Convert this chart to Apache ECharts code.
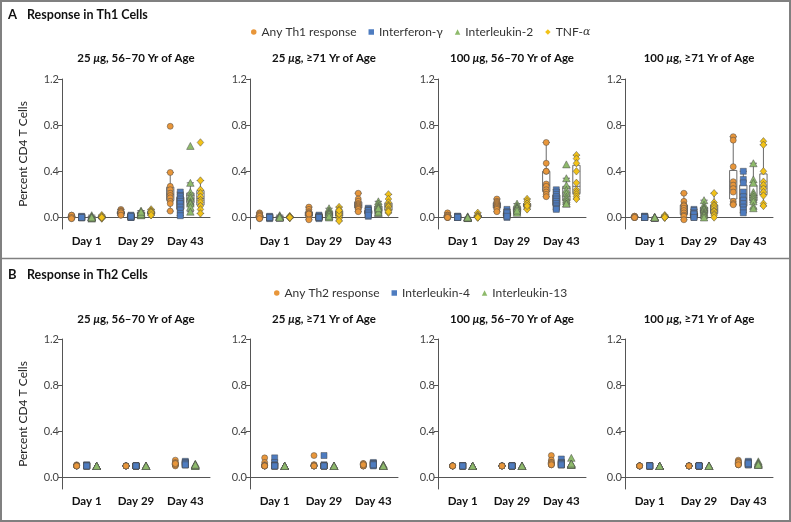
<!DOCTYPE html>
<html><head><meta charset="utf-8">
<script src="https://cdn.jsdelivr.net/npm/echarts@6/dist/echarts.min.js"></script>
<style>html,body{margin:0;padding:0;background:#fff}#c{width:791px;height:522px}</style>
</head><body><div id="c"></div>
<script>
// ---------- categories / labels ----------
const days = ['Day 1', 'Day 29', 'Day 43'];
const groupTitles = ['25 {i|μ}g, 56–70 Yr of Age', '25 {i|μ}g, ≥71 Yr of Age', '100 {i|μ}g, 56–70 Yr of Age', '100 {i|μ}g, ≥71 Yr of Age'];
const yTicks = [0, 0.4, 0.8, 1.2];
const th1Names = ['Any Th1 response', 'Interferon-γ', 'Interleukin-2', 'TNF-α'];
const th2Names = ['Any Th2 response', 'Interleukin-4', 'Interleukin-13'];

// ---------- Th1 data: each array = [Day 1, Day 29, Day 43] ----------
// 25 µg, 56–70 yr
const th1Any_25y = [[0.02,0.01,0.0,0.0,-0.01,0.01,0.0,0.02,0.0,-0.01],[0.07,0.06,0.05,0.04,0.03,0.03,0.02,0.05,0.04,0.02],[0.79,0.39,0.27,0.24,0.21,0.19,0.17,0.14,0.12,0.055]];
const th1Ifn_25y = [[0.0,0.0,0.01,0.0,-0.005,0.0,0.005,0.0,0.0,0.0],[0.02,0.01,0.01,0.0,0.0,0.01,0.0,0.005,0.0,0.01],[0.22,0.19,0.18,0.16,0.14,0.12,0.09,0.065,0.035,0.015]];
const th1Il2_25y = [[0.01,0.0,0.0,-0.01,0.02,0.0,0.01,0.0,0.005,0.0],[0.06,0.05,0.04,0.03,0.02,0.03,0.04,0.02,0.03,0.05],[0.62,0.30,0.22,0.19,0.17,0.14,0.13,0.12,0.09,0.05]];
const th1Tnf_25y = [[0.01,0.0,-0.01,0.02,0.0,0.005,-0.005,0.01,0.0,0.0],[0.07,0.06,0.05,0.04,0.03,0.02,0.03,0.05,0.04,0.02],[0.65,0.32,0.24,0.21,0.18,0.15,0.13,0.10,0.07,0.035]];
// 25 µg, >=71 yr
const th1Any_25o = [[0.04,0.03,0.01,0.0,-0.01,0.0,0.02,0.0,0.01,-0.01],[0.09,0.07,0.05,0.04,0.03,0.02,0.01,0.0,-0.02,0.03],[0.21,0.16,0.14,0.12,0.11,0.10,0.09,0.08,0.07,0.05]];
const th1Ifn_25o = [[0.0,0.0,-0.01,0.01,0.0,0.0,0.005,-0.005,0.0,0.0],[0.02,0.01,0.0,0.0,-0.01,0.01,0.0,0.005,0.0,0.0],[0.08,0.07,0.06,0.05,0.04,0.03,0.01,0.06,0.04,0.02]];
const th1Il2_25o = [[0.0,0.01,0.02,0.0,0.0,0.01,0.0,0.005,0.01,0.0],[0.08,0.06,0.05,0.03,0.02,0.01,0.0,0.04,0.03,0.01],[0.14,0.12,0.10,0.09,0.07,0.06,0.04,0.04,0.05,0.08]];
const th1Tnf_25o = [[0.0,0.01,-0.005,0.0,0.01,0.0,0.005,0.0,0.0,0.0],[0.09,0.07,0.05,0.04,0.02,0.01,-0.01,-0.03,0.03,0.06],[0.20,0.16,0.13,0.11,0.10,0.09,0.07,0.06,0.04,0.05]];
// 100 µg, 56–70 yr
const th1Any_100y = [[0.04,0.02,0.01,0.0,0.01,0.0,0.02,0.01,0.0,0.0],[0.16,0.14,0.13,0.12,0.11,0.10,0.09,0.08,0.07,0.05],[0.65,0.47,0.40,0.40,0.29,0.27,0.24,0.22,0.20,0.18]];
const th1Ifn_100y = [[0.01,0.0,0.0,0.005,0.0,0.01,0.0,0.0,0.005,0.0],[0.07,0.05,0.04,0.03,0.01,0.0,0.02,0.03,0.04,0.01],[0.24,0.22,0.20,0.18,0.16,0.14,0.12,0.10,0.08,0.07]];
const th1Il2_100y = [[0.0,0.01,-0.005,0.0,0.0,0.005,0.0,-0.005,0.0,0.0],[0.12,0.10,0.09,0.08,0.07,0.06,0.05,0.04,0.08,0.06],[0.46,0.34,0.28,0.24,0.21,0.18,0.16,0.14,0.12,0.12]];
const th1Tnf_100y = [[0.04,0.02,0.01,0.0,0.01,0.02,0.0,0.01,0.005,0.0],[0.16,0.14,0.12,0.11,0.10,0.09,0.08,0.07,0.12,0.10],[0.54,0.51,0.47,0.40,0.30,0.24,0.22,0.20,0.18,0.16]];
// 100 µg, >=71 yr
const th1Any_100o = [[0.01,0.0,0.0,0.01,0.005,0.0,0.0,0.01,0.0,0.0],[0.21,0.14,0.11,0.10,0.08,0.06,0.04,0.02,0.01,-0.02],[0.70,0.67,0.44,0.31,0.28,0.25,0.22,0.14,0.12,0.11]];
const th1Ifn_100o = [[0.01,0.0,0.005,0.0,0.01,0.0,0.0,0.005,0.0,0.0],[0.07,0.06,0.04,0.03,0.01,0.01,0.0,0.02,0.03,0.0],[0.40,0.33,0.30,0.22,0.18,0.15,0.12,0.09,0.065,0.04]];
const th1Il2_100o = [[0.0,0.0,0.005,0.0,0.0,0.005,0.0,0.0,0.0,0.0],[0.15,0.11,0.09,0.08,0.07,0.05,0.04,0.03,0.02,0.0],[0.47,0.33,0.30,0.22,0.20,0.18,0.16,0.14,0.10,0.08]];
const th1Tnf_100o = [[0.01,0.0,0.02,0.005,0.0,0.01,0.0,0.0,0.01,0.0],[0.21,0.13,0.11,0.10,0.08,0.06,0.05,0.03,0.02,0.0],[0.66,0.63,0.40,0.31,0.28,0.25,0.22,0.19,0.12,0.10]];

// ---------- Th2 data ----------
const th2Any_25y = [[0.10,0.10,0.11,0.10,0.10,0.105,0.10,0.10,0.10,0.10],[0.10,0.10,0.10,0.10,0.10,0.10,0.10,0.10,0.10,0.10],[0.15,0.13,0.12,0.11,0.11,0.12,0.11,0.10,0.11,0.12]];
const th2Il4_25y = [[0.10,0.11,0.10,0.10,0.10,0.10,0.105,0.10,0.10,0.10],[0.10,0.10,0.10,0.10,0.10,0.10,0.10,0.10,0.10,0.10],[0.14,0.13,0.12,0.11,0.12,0.11,0.13,0.11,0.12,0.11]];
const th2Il13_25y = [[0.10,0.10,0.10,0.10,0.10,0.10,0.10,0.10,0.10,0.10],[0.10,0.10,0.10,0.10,0.10,0.10,0.10,0.10,0.10,0.10],[0.12,0.11,0.11,0.10,0.11,0.10,0.11,0.10,0.11,0.11]];
const th2Any_25o = [[0.17,0.13,0.10,0.10,0.10,0.11,0.10,0.10,0.10,0.10],[0.19,0.11,0.10,0.10,0.10,0.10,0.11,0.10,0.10,0.10],[0.12,0.11,0.10,0.11,0.12,0.10,0.11,0.10,0.10,0.11]];
const th2Il4_25o = [[0.17,0.13,0.10,0.10,0.11,0.10,0.10,0.10,0.10,0.10],[0.19,0.11,0.10,0.10,0.10,0.10,0.10,0.10,0.10,0.10],[0.13,0.12,0.11,0.11,0.12,0.10,0.11,0.12,0.11,0.11]];
const th2Il13_25o = [[0.10,0.10,0.10,0.10,0.10,0.10,0.10,0.10,0.10,0.10],[0.10,0.10,0.10,0.10,0.10,0.10,0.10,0.10,0.10,0.10],[0.11,0.10,0.10,0.11,0.10,0.10,0.11,0.10,0.10,0.10]];
const th2Any_100y = [[0.10,0.10,0.10,0.10,0.10,0.10,0.10,0.10,0.10,0.10],[0.10,0.10,0.10,0.10,0.10,0.10,0.10,0.10,0.10,0.10],[0.19,0.15,0.13,0.12,0.11,0.12,0.13,0.11,0.12,0.11]];
const th2Il4_100y = [[0.10,0.10,0.10,0.10,0.10,0.10,0.10,0.10,0.10,0.10],[0.10,0.10,0.10,0.10,0.10,0.10,0.10,0.10,0.10,0.10],[0.16,0.13,0.11,0.12,0.11,0.13,0.12,0.11,0.12,0.11]];
const th2Il13_100y = [[0.10,0.10,0.10,0.10,0.10,0.10,0.10,0.10,0.10,0.10],[0.10,0.10,0.10,0.10,0.10,0.10,0.10,0.10,0.10,0.10],[0.17,0.12,0.11,0.11,0.12,0.11,0.12,0.11,0.11,0.12]];
const th2Any_100o = [[0.10,0.10,0.10,0.10,0.10,0.10,0.10,0.10,0.10,0.10],[0.10,0.10,0.10,0.10,0.10,0.10,0.10,0.10,0.10,0.10],[0.15,0.13,0.12,0.11,0.12,0.14,0.11,0.12,0.13,0.11]];
const th2Il4_100o = [[0.10,0.10,0.10,0.10,0.10,0.10,0.10,0.10,0.10,0.10],[0.10,0.10,0.10,0.10,0.10,0.10,0.10,0.10,0.10,0.10],[0.14,0.12,0.11,0.12,0.13,0.11,0.12,0.11,0.13,0.12]];
const th2Il13_100o = [[0.10,0.10,0.10,0.10,0.10,0.10,0.10,0.10,0.10,0.10],[0.10,0.10,0.10,0.10,0.10,0.10,0.10,0.10,0.10,0.10],[0.14,0.12,0.11,0.12,0.11,0.13,0.12,0.11,0.12,0.11]];

// ---------- layout / style ----------
const FONT = 'Lato';
const gridLefts = [62, 250, 438, 625];
const gridW = 148, gridH = 150;
const yMin = -0.1, yMax = 1.2;
const colors = ['#E8963A', '#4E7CC0', '#8EBA6B', '#F2C218'];
const symbols = ['circle', 'rect', 'triangle', 'diamond'];
const symSizes = [6, 6, [7.5, 7], [6.5, 7.5]];
const axisColor = '#555';

const panels = [
  { letter: 'A', heading: 'Response in Th1 Cells', headTop: 8, legendTop: 26, legendLeft: 251, titleTop: 52, top: 79,
    names: th1Names, boxes: true,
    groups: [[th1Any_25y, th1Ifn_25y, th1Il2_25y, th1Tnf_25y], [th1Any_25o, th1Ifn_25o, th1Il2_25o, th1Tnf_25o],
             [th1Any_100y, th1Ifn_100y, th1Il2_100y, th1Tnf_100y], [th1Any_100o, th1Ifn_100o, th1Il2_100o, th1Tnf_100o]] },
  { letter: 'B', heading: 'Response in Th2 Cells', headTop: 268, legendTop: 287, legendLeft: 274, titleTop: 313, top: 339,
    names: th2Names, boxes: false,
    groups: [[th2Any_25y, th2Il4_25y, th2Il13_25y], [th2Any_25o, th2Il4_25o, th2Il13_25o],
             [th2Any_100y, th2Il4_100y, th2Il13_100y], [th2Any_100o, th2Il4_100o, th2Il13_100o]] }
];

function quant(sorted, p) {
  const pos = (sorted.length - 1) * p, lo = Math.floor(pos), hi = Math.ceil(pos);
  return sorted[lo] + (sorted[hi] - sorted[lo]) * (pos - lo);
}
function boxStats(vals) {
  const s = vals.slice().sort((a, b) => a - b);
  const q1 = quant(s, 0.25), med = quant(s, 0.5), q3 = quant(s, 0.75), iqr = q3 - q1;
  const lo = s.find(v => v >= q1 - 1.5 * iqr);
  const hi = s.slice().reverse().find(v => v <= q3 + 1.5 * iqr);
  return [lo, q1, med, q3, hi];
}
// same offsets as ECharts boxplot layout so points sit over their boxes
function seriesOffsets(n) {
  const band = gridW / days.length;
  const avail = band * 0.8 - 2, gap = avail / n * 0.3, bw = (avail - gap * (n - 1)) / n;
  const base = bw / 2 - avail / 2;
  return Array.from({ length: n }, (_, i) => base + i * (gap + bw));
}
function jitter(vals, maxShift) {
  const pxPerUnit = gridH / (yMax - yMin);
  const placed = [];
  const cands = [0, 2.5, -2.5, 5, -5].filter(c => Math.abs(c) <= maxShift);
  return vals.map(v => {
    const y = v * pxPerUnit;
    let best = 0, bestC = Infinity;
    for (const c of cands) {
      let cnt = 0;
      for (const p of placed) if (Math.abs(p.y - y) < 5 && Math.abs(p.x - c) < 4) cnt++;
      if (cnt < bestC) { bestC = cnt; best = c; }
      if (cnt === 0) break;
    }
    placed.push({ x: best, y });
    return best;
  });
}

const grid = [], xAxis = [], yAxis = [], series = [], title = [], legend = [];
panels.forEach((P, pi) => {
  title.push({ text: P.letter, left: 8, top: P.headTop, padding: 0, textStyle: { fontFamily: FONT, fontSize: 13, fontWeight: 'bold', color: '#111' } });
  title.push({ text: P.heading, left: 27, top: P.headTop, padding: 0, textStyle: { fontFamily: FONT, fontSize: 12.5, fontWeight: 'bold', color: '#111' } });
  legend.push({
    top: P.legendTop, left: P.legendLeft, itemWidth: 5.5, itemHeight: 5.5, itemGap: 12, selectedMode: false, padding: 0,
    data: P.names.map((n, i) => ({ name: n, icon: symbols[i] })),
    itemStyle: { borderWidth: 0 },
    formatter: n => n === 'TNF-α' ? 'TNF-{i|α}' : n,
    textStyle: { fontFamily: FONT, fontSize: 12, color: '#333', rich: { i: { fontFamily: 'DejaVu Serif', fontStyle: 'italic', fontSize: 11, color: '#333' } } }
  });
  const n = P.names.length;
  const offs = P.boxes ? seriesOffsets(n) : [-10, 0, 10];
  P.groups.forEach((grp, k) => {
    const gi = pi * 4 + k;
    grid.push({ left: gridLefts[k], top: P.top, width: gridW, height: gridH });
    title.push({ text: groupTitles[k], left: gridLefts[k] + gridW / 2, top: P.titleTop, textAlign: 'center', padding: 0,
      textStyle: { fontFamily: FONT, fontSize: 11.5, fontWeight: 'bold', color: '#111', rich: { i: { fontFamily: FONT, fontSize: 11.5, fontWeight: 'bold', fontStyle: 'italic', color: '#111' } } } });
    xAxis.push({ gridIndex: gi, type: 'category', data: days, boundaryGap: true,
      axisLine: { lineStyle: { color: axisColor, width: 1 } }, axisTick: { show: false }, splitLine: { show: false },
      axisLabel: { color: '#111', fontFamily: FONT, fontWeight: 'bold', fontSize: 11.5, margin: 6 } });
    yAxis.push({ gridIndex: gi, type: 'value', min: yMin, max: yMax,
      name: k === 0 ? 'Percent CD4 T Cells' : '', nameLocation: 'middle', nameGap: 33,
      nameTextStyle: { fontFamily: FONT, fontSize: 12, color: '#222' },
      axisLine: { show: true, lineStyle: { color: axisColor, width: 1 } },
      axisTick: { show: true, customValues: yTicks, length: 4, lineStyle: { color: axisColor } },
      axisLabel: { customValues: yTicks, formatter: v => v.toFixed(1), color: '#444', fontFamily: FONT, fontSize: 11, margin: 3 },
      splitLine: { show: false } });
    grp.forEach((arr, s) => {
      if (P.boxes) {
        series.push({ type: 'boxplot', name: 'box' + s, xAxisIndex: gi, yAxisIndex: gi, z: 2, silent: true,
          itemStyle: { color: '#fff', borderColor: '#6a6a6a', borderWidth: 1 },
          data: arr.map(boxStats) });
      }
      const data = [];
      arr.forEach((vals, d) => {
        const js = jitter(vals, P.boxes ? 3 : 2.5);
        vals.forEach((v, j) => data.push({ value: [d, v], symbolOffset: [offs[s] + js[j], 0] }));
      });
      series.push({ type: 'scatter', name: P.names[s], xAxisIndex: gi, yAxisIndex: gi, z: 3, silent: true,
        symbol: symbols[s], symbolSize: symSizes[s],
        itemStyle: { color: colors[s], borderColor: '#4a4a4a', borderWidth: 0.5, opacity: 1 },
        data });
    });
  });
});

const chart = echarts.init(document.getElementById('c'));
chart.setOption({
  animation: false, backgroundColor: '#fff',
  title, legend, grid, xAxis, yAxis, series,
  graphic: [
    { type: 'rect', shape: { x: 1, y: 1, width: 789, height: 520 }, style: { fill: 'none', stroke: '#808080', lineWidth: 2 }, silent: true },
    { type: 'line', shape: { x1: 1, y1: 258.5, x2: 790, y2: 258.5 }, style: { stroke: '#808080', lineWidth: 1.5 }, silent: true }
  ]
});
</script></body></html>
